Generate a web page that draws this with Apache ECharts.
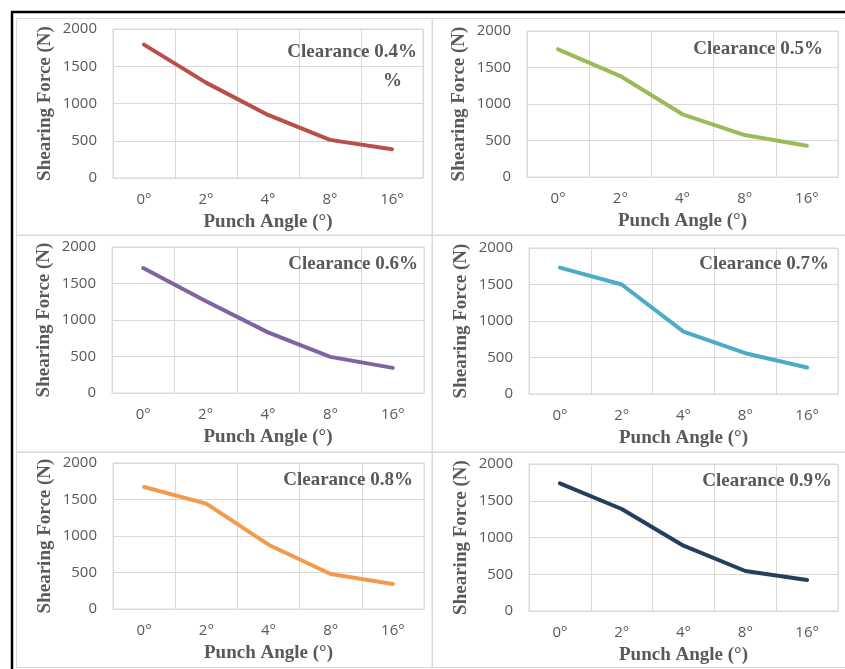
<!DOCTYPE html>
<html>
<head>
<meta charset="utf-8">
<script src="https://cdn.jsdelivr.net/npm/echarts@6/dist/echarts.min.js"></script>
<style>
html,body{margin:0;padding:0;background:#fff;}
#chart{width:845px;height:669px;}
</style>
</head>
<body>
<div id="chart"></div>
<script>
// ---- data ----
const categories = ['0°', '2°', '4°', '8°', '16°'];
const clearance04 = [1790, 1280, 846, 512, 385];
const clearance05 = [1749, 1383, 859, 575, 429];
const clearance06 = [1711, 1261, 830, 495, 344];
const clearance07 = [1732, 1500, 855, 559, 364];
const clearance08 = [1671, 1443, 881, 479, 342];
const clearance09 = [1737, 1388, 889, 544, 422];
const panelTitles = ['Clearance 0.4%', 'Clearance 0.5%', 'Clearance 0.6%', 'Clearance 0.7%', 'Clearance 0.8%', 'Clearance 0.9%'];
const yTicks = [0, 500, 1000, 1500, 2000];
const xName = 'Punch Angle (°)';
const yName = 'Shearing Force (N)';

const seriesData = [clearance04, clearance05, clearance06, clearance07, clearance08, clearance09];
const colors = ['#b94f4a', '#9bbb59', '#8064a2', '#4bacc6', '#f39a4f', '#233f5e'];

// plot rectangles [left, top, width, height]
const grids = [
  [113, 29, 310, 149],
  [527, 31, 311, 146],
  [112, 247, 312, 146],
  [529, 248, 309, 146],
  [113, 463, 311, 146],
  [529, 464, 309, 147]
];
// title right edge & vertical center
const titlePos = [
  [417, 52], [823, 49], [418, 264], [829, 264], [413, 480], [832, 481]
];

const grey = '#595959';
const gridLine = '#d9d9d9';
const serif = '"Liberation Serif", "Times New Roman", serif';
const sans = '"Open Sans", "Liberation Sans", sans-serif';
const serifStyle = {fontFamily: serif, fontWeight: 'bold', fontSize: 19, color: grey, lineHeight: 22};

const option = {
  backgroundColor: '#fff',
  animation: false,
  title: titlePos.map((p, i) => ({
    text: panelTitles[i],
    right: 845 - p[0],
    top: p[1] - 11,
    padding: 0,
    textStyle: serifStyle
  })).concat([{
    text: '%',
    left: 383,
    top: 70,
    padding: 0,
    textStyle: serifStyle
  }]),
  graphic: [
    // panel borders
    {type: 'rect', shape: {x: 16.5, y: 18.5, width: 415.5, height: 216.5}, style: {fill: 'none', stroke: gridLine, lineWidth: 1}, z: -10},
    {type: 'rect', shape: {x: 432.5, y: 18.5, width: 420, height: 216.5}, style: {fill: 'none', stroke: gridLine, lineWidth: 1}, z: -10},
    {type: 'rect', shape: {x: 16.5, y: 235.5, width: 415.5, height: 216.5}, style: {fill: 'none', stroke: gridLine, lineWidth: 1}, z: -10},
    {type: 'rect', shape: {x: 432.5, y: 235.5, width: 420, height: 216.5}, style: {fill: 'none', stroke: gridLine, lineWidth: 1}, z: -10},
    {type: 'rect', shape: {x: 16.5, y: 452.5, width: 415.5, height: 215}, style: {fill: 'none', stroke: gridLine, lineWidth: 1}, z: -10},
    {type: 'rect', shape: {x: 432.5, y: 452.5, width: 420, height: 215}, style: {fill: 'none', stroke: gridLine, lineWidth: 1}, z: -10},
    // outer black frame (top + left)
    {type: 'line', shape: {x1: 11, y1: 12, x2: 845, y2: 12}, style: {stroke: '#000', lineWidth: 2.5}},
    {type: 'line', shape: {x1: 12, y1: 11, x2: 12, y2: 669}, style: {stroke: '#000', lineWidth: 2.5}}
  ],
  grid: grids.map(g => ({
    left: g[0], top: g[1], width: g[2], height: g[3],
    show: true, borderColor: gridLine, borderWidth: 1, backgroundColor: 'transparent'
  })),
  xAxis: grids.map((g, i) => ({
    type: 'category',
    gridIndex: i,
    data: categories,
    boundaryGap: true,
    name: xName,
    nameLocation: 'middle',
    nameGap: 35,
    nameTextStyle: {fontFamily: serif, fontWeight: 'bold', fontSize: 19, color: grey},
    axisLine: {show: true, lineStyle: {color: gridLine, width: 1}},
    axisTick: {show: false},
    axisLabel: {fontFamily: sans, fontSize: 15, color: grey, margin: 14},
    splitLine: {show: true, lineStyle: {color: gridLine, width: 1}}
  })),
  yAxis: grids.map((g, i) => ({
    type: 'value',
    gridIndex: i,
    min: 0,
    max: 2000,
    interval: 500,
    name: yName,
    nameLocation: 'middle',
    nameRotate: 90,
    nameGap: 58,
    nameTextStyle: {fontFamily: serif, fontWeight: 'bold', fontSize: 19, color: grey},
    axisLine: {show: false},
    axisTick: {show: false},
    axisLabel: {fontFamily: sans, fontSize: 15, color: grey, margin: 16,
      formatter: v => yTicks.indexOf(v) >= 0 ? String(v) : ''},
    splitLine: {show: true, lineStyle: {color: gridLine, width: 1}}
  })),
  series: seriesData.map((d, i) => ({
    type: 'line',
    xAxisIndex: i,
    yAxisIndex: i,
    data: d,
    showSymbol: false,
    symbol: 'none',
    smooth: false,
    lineStyle: {color: colors[i], width: 4, cap: 'round', join: 'round'},
    itemStyle: {color: colors[i]}
  }))
};

const chart = echarts.init(document.getElementById('chart'), null, {renderer: 'canvas'});
chart.setOption(option);
</script>
</body>
</html>
